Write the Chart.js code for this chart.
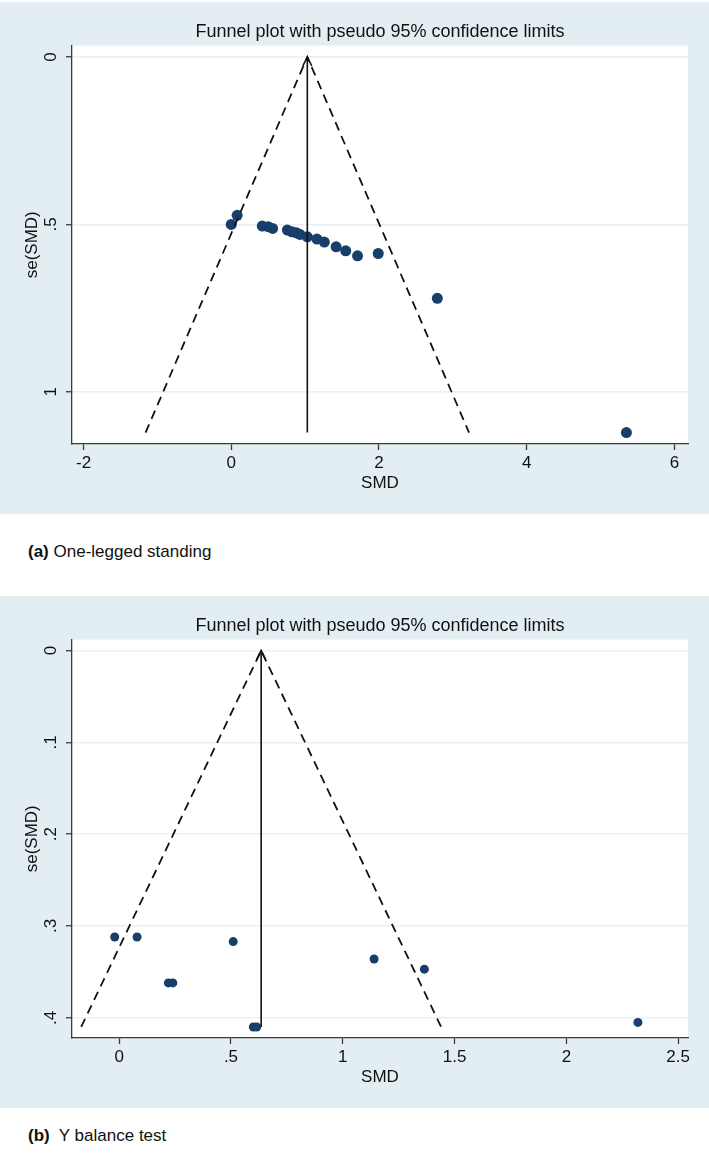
<!DOCTYPE html>
<html lang="en">
  <head>
    <meta charset="UTF-8" />
    <title>Funnel plots</title>
    <script src="https://cdn.jsdelivr.net/npm/chart.js"></script>
    <style>
      body {
        margin: 0;
        width: 709px;
        height: 1153px;
        position: relative;
        background: #fff;
        font-family: "Liberation Sans", Arial, sans-serif;
        color: #111;
      }
      .panel {
        position: absolute;
        left: 0;
        width: 709px;
        height: 512px;
        background: #e3eef2;
      }
      #panel-a { top: 2px; }
      #panel-b { top: 596px; }
      .caption {
        position: absolute;
        left: 28px;
        font-size: 17px;
        line-height: 20px;
      }
      #cap-a { top: 542px; }
      #cap-b { top: 1126px; }
    </style>
  </head>
  <body>
    <div class="panel" id="panel-a"><canvas id="chartA" width="709" height="512"></canvas></div>
    <div class="caption" id="cap-a"><b>(a)</b> One-legged standing</div>
    <div class="panel" id="panel-b"><canvas id="chartB" width="709" height="512"></canvas></div>
    <div class="caption" id="cap-b"><b>(b)</b>&nbsp; Y balance test</div>
    <script>
      // (a) one-legged standing: study SMD and its standard error
      const smdA = [0.00, 0.08, 0.42, 0.50, 0.56, 0.76, 0.82, 0.88, 0.93, 1.03, 1.16, 1.26, 1.42, 1.55, 1.71, 1.99, 2.79, 5.35];
      const seA = [0.500, 0.473, 0.505, 0.507, 0.512, 0.517, 0.522, 0.525, 0.530, 0.537, 0.544, 0.553, 0.567, 0.579, 0.594, 0.587, 0.721, 1.122];
      const pooledA = 1.03;
      const funnelXA = [-1.16, 1.03, 3.22];
      const funnelSeA = [1.122, 0, 1.122];
      const xTicksA = [-2, 0, 2, 4, 6];
      const yTicksA = [0, 0.5, 1];

      // (b) Y balance test
      const smdB = [-0.02, 0.08, 0.22, 0.24, 0.51, 0.60, 0.615, 1.14, 1.365, 2.32];
      const seB = [0.312, 0.312, 0.362, 0.362, 0.317, 0.410, 0.410, 0.336, 0.347, 0.405];
      const pooledB = 0.635;
      const funnelXB = [-0.17, 0.635, 1.44];
      const funnelSeB = [0.410, 0, 0.410];
      const xTicksB = [0, 0.5, 1, 1.5, 2, 2.5];
      const yTicksB = [0, 0.1, 0.2, 0.3, 0.4];

      const navy = "#183f69";
      const ink = "#111";
      const axisColor = "#3a3a3a";

      function stataLabel(v) {
        return String(v).replace(/^0\./, ".").replace(/^-0\./, "-.");
      }

      // white plot region + open arrow head on the pooled-effect line
      const plotBg = {
        id: "plotBg",
        beforeDraw(chart) {
          const a = chart.chartArea;
          chart.ctx.save();
          chart.ctx.fillStyle = "#fff";
          chart.ctx.fillRect(a.left, a.top, a.right - a.left, a.bottom - a.top);
          chart.ctx.restore();
        },
      };
      const arrowHead = {
        id: "arrowHead",
        afterDatasetsDraw(chart, args, opts) {
          const x = chart.scales.x.getPixelForValue(opts.pooled);
          const y = chart.scales.y.getPixelForValue(0);
          const c = chart.ctx;
          c.save();
          c.strokeStyle = ink;
          c.lineWidth = 1.6;
          c.beginPath();
          c.moveTo(x - 4.5, y + 9);
          c.lineTo(x, y);
          c.lineTo(x + 4.5, y + 9);
          c.stroke();
          c.restore();
        },
      };

      function toPoints(xs, ys) {
        return xs.map((v, i) => ({ x: v, y: ys[i] }));
      }

      function makeFunnel(id, smd, se, pooled, fx, fse, xTicks, yTicks, xr, yr, radius) {
        const seMax = fse[0];
        return new Chart(document.getElementById(id), {
          type: "scatter",
          data: {
            datasets: [
              {
                type: "line",
                data: toPoints(fx, fse),
                borderColor: ink,
                borderWidth: 1.8,
                borderDash: [9, 6],
                pointRadius: 0,
                fill: false,
              },
              {
                type: "line",
                data: toPoints([pooled, pooled], [0, seMax]),
                borderColor: ink,
                borderWidth: 1.6,
                pointRadius: 0,
                fill: false,
              },
              {
                data: toPoints(smd, se),
                backgroundColor: navy,
                borderWidth: 0,
                pointRadius: radius,
              },
            ],
          },
          options: {
            responsive: false,
            animation: false,
            events: [],
            layout: { padding: { top: 0, left: 0, right: 21, bottom: 0 } },
            plugins: {
              legend: { display: false },
              tooltip: { enabled: false },
              arrowHead: { pooled: pooled },
              title: {
                display: true,
                fullSize: false,
                text: "Funnel plot with pseudo 95% confidence limits",
                color: ink,
                font: { family: "Liberation Sans", size: 18, weight: "normal" },
                padding: { top: 19, bottom: 3 },
              },
            },
            scales: {
              x: {
                type: "linear",
                min: xr[0],
                max: xr[1],
                afterBuildTicks: (s) => { s.ticks = xTicks.map((v) => ({ value: v })); },
                afterFit: (s) => { s.height = 70; },
                grid: { drawOnChartArea: false, tickColor: axisColor, tickLength: 6, tickWidth: 1.3 },
                border: { color: axisColor, width: 1.3 },
                ticks: {
                  color: ink,
                  padding: 3,
                  maxRotation: 0,
                  font: { family: "Liberation Sans", size: 17 },
                  callback: (v) => stataLabel(v),
                },
                title: {
                  display: true,
                  text: "SMD",
                  color: ink,
                  font: { family: "Liberation Sans", size: 17 },
                  padding: { top: 0, bottom: 20 },
                },
              },
              y: {
                type: "linear",
                reverse: true,
                min: yr[0],
                max: yr[1],
                afterBuildTicks: (s) => { s.ticks = yTicks.map((v) => ({ value: v })); },
                afterFit: (s) => { s.width = 72; },
                grid: { color: "#e8f0f3", lineWidth: 1.5, tickColor: axisColor, tickLength: 6, tickWidth: 1.3 },
                border: { color: axisColor, width: 1.3 },
                ticks: {
                  color: ink,
                  padding: 8,
                  minRotation: 90,
                  maxRotation: 90,
                  crossAlign: "center",
                  font: { family: "Liberation Sans", size: 17 },
                  callback: (v) => stataLabel(v),
                },
                title: {
                  display: true,
                  text: "se(SMD)",
                  color: ink,
                  font: { family: "Liberation Sans", size: 17 },
                  padding: { top: 22, bottom: 0 },
                },
              },
            },
          },
          plugins: [plotBg, arrowHead],
        });
      }

      makeFunnel("chartA", smdA, seA, pooledA, funnelXA, funnelSeA, xTicksA, yTicksA, [-2.156, 6.184], [-0.034, 1.156], 5.5);
      makeFunnel("chartB", smdB, seB, pooledB, funnelXB, funnelSeB, xTicksB, yTicksB, [-0.211, 2.544], [-0.012, 0.422], 4.5);
    </script>
  </body>
</html>
